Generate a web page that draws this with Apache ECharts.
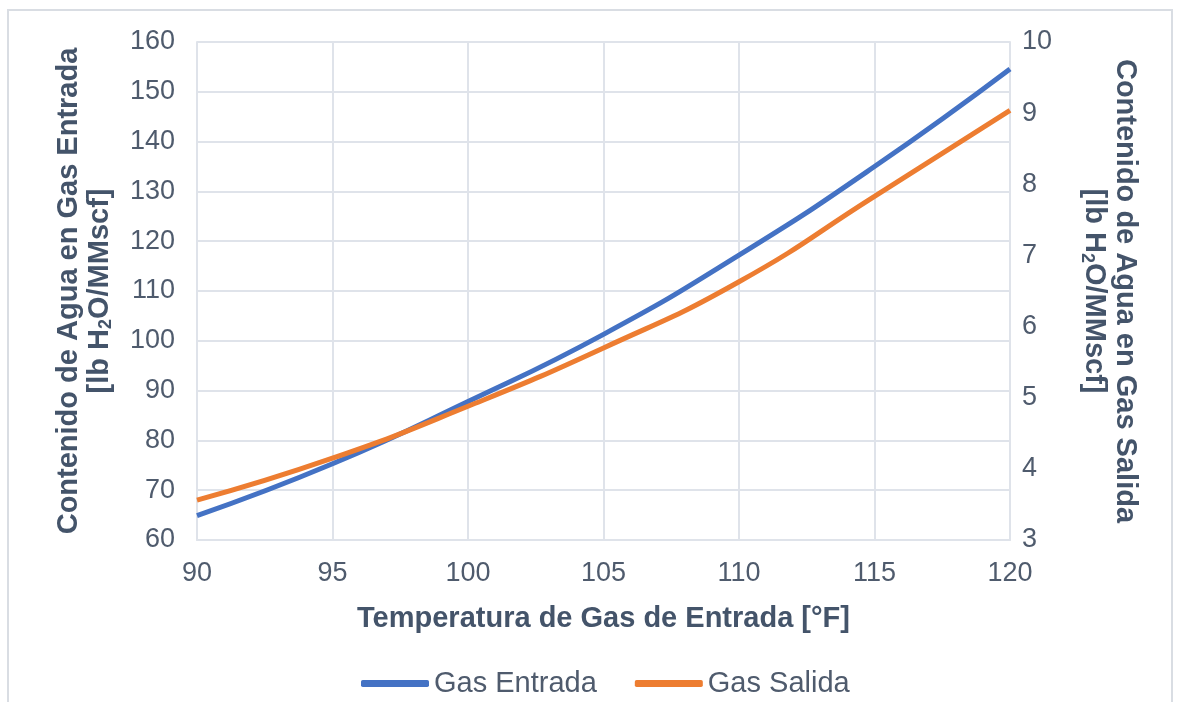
<!DOCTYPE html>
<html>
<head>
<meta charset="utf-8">
<script src="https://cdn.jsdelivr.net/npm/echarts@6/dist/echarts.min.js"></script>
<style>
html,body{margin:0;padding:0;background:#fff;}
#chart{width:1177px;height:702px;}
</style>
</head>
<body>
<div id="chart"></div>
<script>
const temperatures = [90, 95, 100, 105, 110, 115, 120];
const gasEntrada = [64.9, 75.3, 87.8, 101.3, 117.2, 135.0, 154.6];
const gasSalida = [3.56, 4.15, 4.88, 5.70, 6.63, 7.83, 9.04];
const leftTicks = [60, 160, 10];
const rightTicks = [3, 10, 1];
const xTicks = [90, 120, 5];
const seriesNames = ['Gas Entrada', 'Gas Salida'];

const labelColor = '#4f5b6d';
const titleColor = '#44546a';
const gridColor = '#dfe3ea';
const fontFam = '"Liberation Sans", Arial, sans-serif';

const chart = echarts.init(document.getElementById('chart'), null, {renderer: 'canvas'});

const nameRich = {
  b: {fontSize: 29, fontWeight: 'bold', color: titleColor, fontFamily: fontFam, lineHeight: 31},
  s: {fontSize: 18, fontWeight: 'bold', color: titleColor, fontFamily: fontFam, lineHeight: 18, verticalAlign: 'bottom'}
};

chart.setOption({
  animation: false,
  backgroundColor: '#fff',
  graphic: [{
    type: 'rect',
    shape: {x: 8, y: 10, width: 1164, height: 720},
    style: {fill: 'none', stroke: '#d9dde3', lineWidth: 2},
    silent: true, z: -1
  }],
  grid: {left: 197, right: 167, top: 42, bottom: 162},
  legend: {
    data: seriesNames,
    left: 356, top: 664,
    icon: 'roundRect',
    itemWidth: 68, itemHeight: 7, itemGap: 38,
    textStyle: {fontSize: 29, color: labelColor, fontFamily: fontFam}
  },
  xAxis: {
    type: 'value', min: xTicks[0], max: xTicks[1], interval: xTicks[2],
    name: 'Temperatura de Gas de Entrada [°F]',
    nameLocation: 'middle', nameGap: 64,
    nameTextStyle: {fontSize: 29, fontWeight: 'bold', color: titleColor, fontFamily: fontFam},
    axisLine: {show: true, lineStyle: {color: gridColor, width: 2}},
    axisTick: {show: false},
    axisLabel: {fontSize: 27, color: labelColor, fontFamily: fontFam, margin: 20},
    splitLine: {show: true, lineStyle: {color: gridColor, width: 2}}
  },
  yAxis: [{
    type: 'value', min: leftTicks[0], max: leftTicks[1], interval: leftTicks[2],
    position: 'left',
    name: '{b|Contenido de Agua en Gas Entrada}\n{b|[lb H}{s|2}{b|O/MMscf]}',
    nameLocation: 'middle', nameGap: 82,
    nameTextStyle: {rich: nameRich, fontSize: 29, fontWeight: 'bold', color: titleColor, fontFamily: fontFam, align: 'center'},
    axisLine: {show: true, lineStyle: {color: gridColor, width: 2}},
    axisTick: {show: false},
    axisLabel: {fontSize: 27, color: labelColor, fontFamily: fontFam, margin: 22},
    splitLine: {show: true, lineStyle: {color: gridColor, width: 2}}
  }, {
    type: 'value', min: rightTicks[0], max: rightTicks[1], interval: rightTicks[2],
    position: 'right',
    name: '{b|Contenido de Agua en Gas Salida}\n{b|[lb H}{s|2}{b|O/MMscf]}',
    nameLocation: 'middle', nameGap: 68, nameRotate: -90,
    nameTextStyle: {rich: nameRich, fontSize: 29, fontWeight: 'bold', color: titleColor, fontFamily: fontFam, align: 'center'},
    axisLine: {show: true, lineStyle: {color: gridColor, width: 2}},
    axisTick: {show: false},
    axisLabel: {fontSize: 27, color: labelColor, fontFamily: fontFam, margin: 12},
    splitLine: {show: false}
  }],
  series: [{
    name: seriesNames[0], type: 'line', yAxisIndex: 0,
    data: temperatures.map((t, i) => [t, gasEntrada[i]]),
    smooth: true, showSymbol: false, symbol: 'none',
    lineStyle: {color: '#4472c4', width: 5},
    itemStyle: {color: '#4472c4'}
  }, {
    name: seriesNames[1], type: 'line', yAxisIndex: 1,
    data: temperatures.map((t, i) => [t, gasSalida[i]]),
    smooth: true, showSymbol: false, symbol: 'none',
    lineStyle: {color: '#ed7d31', width: 5},
    itemStyle: {color: '#ed7d31'}
  }]
});
</script>
</body>
</html>
